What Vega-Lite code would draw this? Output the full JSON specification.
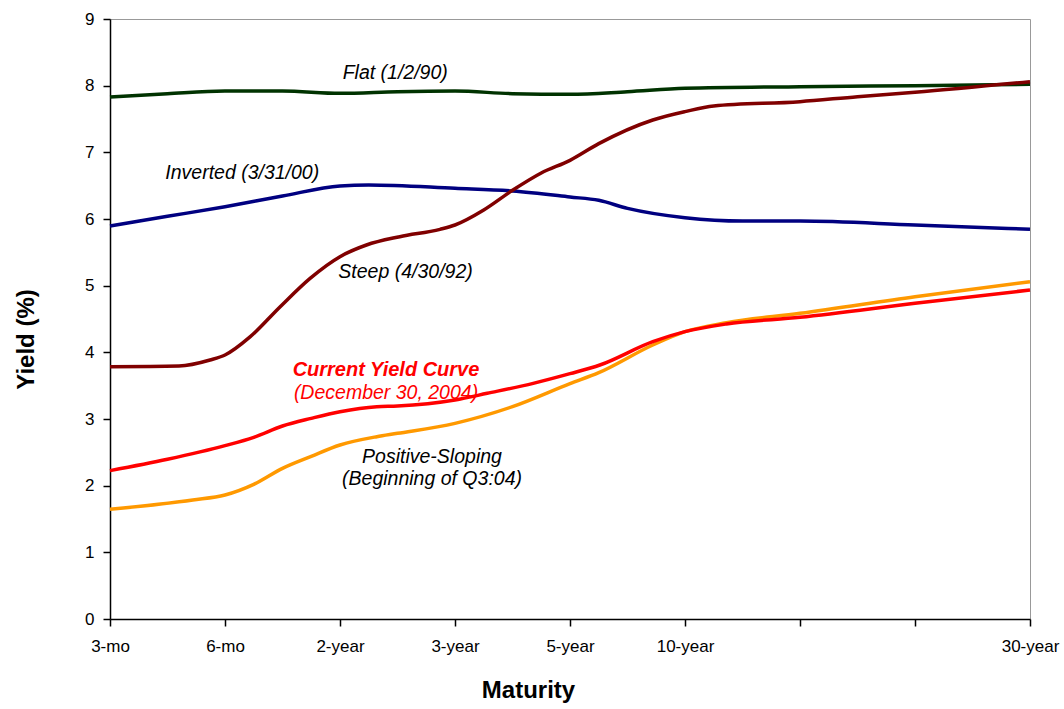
{
  "$schema": "https://vega.github.io/schema/vega-lite/v6.json",
  "width": 920,
  "height": 600,
  "autosize": {"type": "none"},
  "padding": {"left": 110, "top": 19, "right": 34, "bottom": 90},
  "background": "white",
  "config": {
    "view": {"stroke": "#999999", "strokeWidth": 1},
    "font": "Liberation Sans",
    "axis": {"labelFont": "Liberation Sans", "titleFont": "Liberation Sans", "labelColor": "black", "titleColor": "black", "domainColor": "black", "tickColor": "black", "grid": false, "domainWidth": 1.5, "tickWidth": 1.5}
  },
  "datasets": {
    "curves": [
      {"s": "Flat", "m": 0, "y": 7.83}, {"s": "Flat", "m": 0.5, "y": 7.88}, {"s": "Flat", "m": 1, "y": 7.92}, {"s": "Flat", "m": 1.5, "y": 7.92}, {"s": "Flat", "m": 2, "y": 7.885}, {"s": "Flat", "m": 2.5, "y": 7.91}, {"s": "Flat", "m": 3, "y": 7.92}, {"s": "Flat", "m": 3.5, "y": 7.88}, {"s": "Flat", "m": 4, "y": 7.87}, {"s": "Flat", "m": 4.5, "y": 7.91}, {"s": "Flat", "m": 5, "y": 7.96}, {"s": "Flat", "m": 6, "y": 7.985}, {"s": "Flat", "m": 7, "y": 8.0}, {"s": "Flat", "m": 8, "y": 8.02},
      {"s": "Inverted", "m": 0, "y": 5.895}, {"s": "Inverted", "m": 0.5, "y": 6.04}, {"s": "Inverted", "m": 1, "y": 6.185}, {"s": "Inverted", "m": 1.5, "y": 6.345}, {"s": "Inverted", "m": 2, "y": 6.495}, {"s": "Inverted", "m": 2.25, "y": 6.51}, {"s": "Inverted", "m": 3, "y": 6.46}, {"s": "Inverted", "m": 3.5, "y": 6.42}, {"s": "Inverted", "m": 4, "y": 6.33}, {"s": "Inverted", "m": 4.25, "y": 6.28}, {"s": "Inverted", "m": 4.5, "y": 6.16}, {"s": "Inverted", "m": 5, "y": 6.02}, {"s": "Inverted", "m": 5.5, "y": 5.97}, {"s": "Inverted", "m": 6, "y": 5.97}, {"s": "Inverted", "m": 7, "y": 5.91}, {"s": "Inverted", "m": 8, "y": 5.845},
      {"s": "Steep", "m": 0, "y": 3.785}, {"s": "Steep", "m": 0.6, "y": 3.795}, {"s": "Steep", "m": 0.87, "y": 3.885}, {"s": "Steep", "m": 1, "y": 3.96}, {"s": "Steep", "m": 1.22, "y": 4.235}, {"s": "Steep", "m": 1.48, "y": 4.685}, {"s": "Steep", "m": 1.74, "y": 5.11}, {"s": "Steep", "m": 2, "y": 5.435}, {"s": "Steep", "m": 2.23, "y": 5.61}, {"s": "Steep", "m": 2.52, "y": 5.735}, {"s": "Steep", "m": 2.87, "y": 5.845}, {"s": "Steep", "m": 3, "y": 5.91}, {"s": "Steep", "m": 3.25, "y": 6.135}, {"s": "Steep", "m": 3.5, "y": 6.43}, {"s": "Steep", "m": 3.75, "y": 6.69}, {"s": "Steep", "m": 4, "y": 6.88}, {"s": "Steep", "m": 4.25, "y": 7.13}, {"s": "Steep", "m": 4.72, "y": 7.485}, {"s": "Steep", "m": 5, "y": 7.61}, {"s": "Steep", "m": 5.25, "y": 7.695}, {"s": "Steep", "m": 6, "y": 7.76}, {"s": "Steep", "m": 6.5, "y": 7.835}, {"s": "Steep", "m": 7, "y": 7.9}, {"s": "Steep", "m": 8, "y": 8.06},
      {"s": "Positive", "m": 0, "y": 1.645}, {"s": "Positive", "m": 0.72, "y": 1.785}, {"s": "Positive", "m": 1, "y": 1.86}, {"s": "Positive", "m": 1.25, "y": 2.02}, {"s": "Positive", "m": 1.5, "y": 2.26}, {"s": "Positive", "m": 1.75, "y": 2.44}, {"s": "Positive", "m": 2, "y": 2.61}, {"s": "Positive", "m": 2.32, "y": 2.735}, {"s": "Positive", "m": 2.5, "y": 2.785}, {"s": "Positive", "m": 3, "y": 2.935}, {"s": "Positive", "m": 3.5, "y": 3.185}, {"s": "Positive", "m": 4, "y": 3.53}, {"s": "Positive", "m": 4.25, "y": 3.695}, {"s": "Positive", "m": 4.72, "y": 4.11}, {"s": "Positive", "m": 5, "y": 4.31}, {"s": "Positive", "m": 5.36, "y": 4.445}, {"s": "Positive", "m": 6, "y": 4.585}, {"s": "Positive", "m": 7, "y": 4.835}, {"s": "Positive", "m": 8, "y": 5.06},
      {"s": "Current", "m": 0, "y": 2.225}, {"s": "Current", "m": 0.5, "y": 2.395}, {"s": "Current", "m": 1, "y": 2.6}, {"s": "Current", "m": 1.25, "y": 2.725}, {"s": "Current", "m": 1.5, "y": 2.895}, {"s": "Current", "m": 1.75, "y": 3.01}, {"s": "Current", "m": 2, "y": 3.11}, {"s": "Current", "m": 2.32, "y": 3.185}, {"s": "Current", "m": 2.5, "y": 3.195}, {"s": "Current", "m": 3, "y": 3.285}, {"s": "Current", "m": 3.28, "y": 3.385}, {"s": "Current", "m": 3.68, "y": 3.535}, {"s": "Current", "m": 4, "y": 3.68}, {"s": "Current", "m": 4.26, "y": 3.81}, {"s": "Current", "m": 4.72, "y": 4.16}, {"s": "Current", "m": 5, "y": 4.31}, {"s": "Current", "m": 5.36, "y": 4.425}, {"s": "Current", "m": 6, "y": 4.525}, {"s": "Current", "m": 7, "y": 4.735}, {"s": "Current", "m": 8, "y": 4.935}
    ],
    "blackLabels": [
      {"label": "Flat (1/2/90)", "m": 2.48, "y": 8.19},
      {"label": "Inverted (3/31/00)", "m": 1.15, "y": 6.69},
      {"label": "Steep (4/30/92)", "m": 2.57, "y": 5.2},
      {"label": "Positive-Sloping", "m": 2.8, "y": 2.43},
      {"label": "(Beginning of Q3:04)", "m": 2.8, "y": 2.1}
    ],
    "redBold": [
      {"label": "Current Yield Curve", "m": 2.4, "y": 3.73}
    ],
    "redItalic": [
      {"label": "(December 30, 2004)", "m": 2.4, "y": 3.39}
    ]
  },
  "layer": [
    {
      "data": {"name": "curves"},
      "mark": {"type": "line", "interpolate": "monotone", "strokeWidth": 3.5},
      "encoding": {
        "x": {
          "field": "m", "type": "quantitative",
          "scale": {"domain": [0, 8], "nice": false, "zero": false},
          "axis": {
            "values": [0, 1, 2, 3, 4, 5, 6, 7, 8],
            "labelExpr": "['3-mo','6-mo','2-year','3-year','5-year','10-year','','','30-year'][datum.value]",
            "title": "Maturity", "titleFontSize": 24, "titleFontWeight": "bold", "titlePadding": 24, "titleX": 418,
            "labelFontSize": 17, "tickSize": 7, "labelPadding": 12, "labelFlush": false, "labelOverlap": false
          }
        },
        "y": {
          "field": "y", "type": "quantitative",
          "scale": {"domain": [0, 9], "nice": false},
          "axis": {
            "values": [0, 1, 2, 3, 4, 5, 6, 7, 8, 9],
            "format": "d",
            "title": "Yield (%)", "titleFontSize": 24, "titleFontWeight": "bold", "titlePadding": 46, "titleY": 320,
            "labelFontSize": 17, "tickSize": 7, "labelPadding": 9
          }
        },
        "color": {
          "field": "s", "type": "nominal",
          "scale": {"domain": ["Flat", "Inverted", "Steep", "Positive", "Current"], "range": ["#003300", "#000080", "#800000", "#FF9900", "#FF0000"]},
          "legend": null
        }
      }
    },
    {
      "data": {"name": "blackLabels"},
      "mark": {"type": "text", "font": "Liberation Sans", "fontSize": 19.5, "fontStyle": "italic", "color": "black", "align": "center", "baseline": "middle"},
      "encoding": {
        "x": {"field": "m", "type": "quantitative"},
        "y": {"field": "y", "type": "quantitative"},
        "text": {"field": "label"}
      }
    },
    {
      "data": {"name": "redBold"},
      "mark": {"type": "text", "font": "Liberation Sans", "fontSize": 20, "fontStyle": "italic", "fontWeight": "bold", "color": "#FF0000", "align": "center", "baseline": "middle"},
      "encoding": {
        "x": {"field": "m", "type": "quantitative"},
        "y": {"field": "y", "type": "quantitative"},
        "text": {"field": "label"}
      }
    },
    {
      "data": {"name": "redItalic"},
      "mark": {"type": "text", "font": "Liberation Sans", "fontSize": 19.5, "fontStyle": "italic", "color": "#FF0000", "align": "center", "baseline": "middle"},
      "encoding": {
        "x": {"field": "m", "type": "quantitative"},
        "y": {"field": "y", "type": "quantitative"},
        "text": {"field": "label"}
      }
    }
  ]
}
